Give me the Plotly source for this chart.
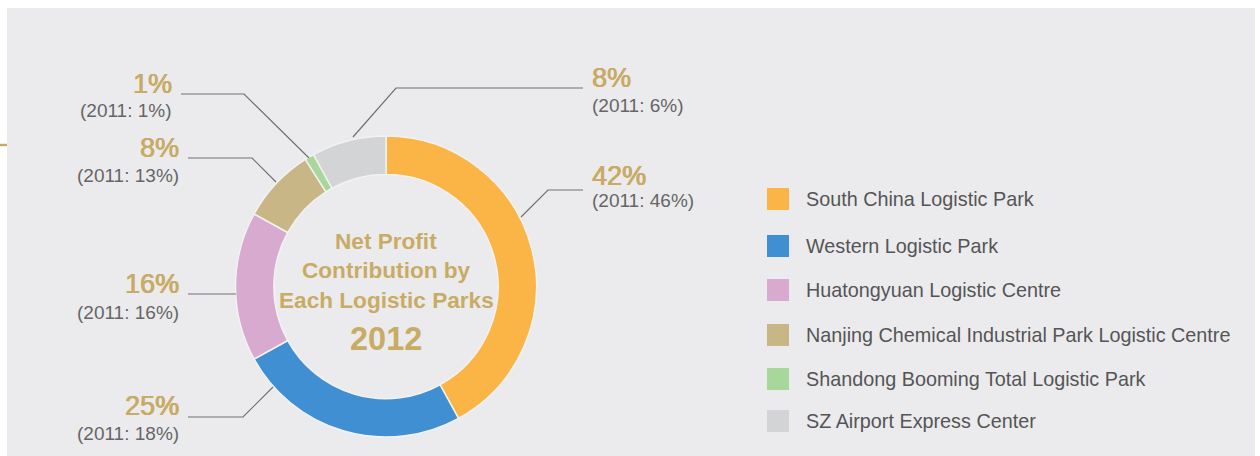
import plotly.graph_objects as go

W, H = 1260, 456

# ---------------- data ----------------
labels = ["South China Logistic Park", "Western Logistic Park", "Huatongyuan Logistic Centre",
          "Nanjing Chemical Industrial Park Logistic Centre", "Shandong Booming Total Logistic Park",
          "SZ Airport Express Center"]
share_2012 = [42, 25, 16, 8, 1, 8]
share_2011 = [46, 18, 16, 13, 1, 6]
colors = ["#FBB446", "#3F8FD2", "#D8AAD0", "#C8B687", "#A7D79A", "#D3D4D6"]
center_lines = ["Net Profit", "Contribution by", "Each Logistic Parks"]
center_year = "2012"
prev_year = "2011"

# ---------------- layout constants (pixels) ----------------
GOLD = "#C8AB65"
GREY_TXT = "#666666"
LINE = "#707070"
FONT = "Liberation Sans, Arial, sans-serif"
CX, CY, R = 386, 286.5, 150.5

# per slice: side, text x, pct y, sub y, leader polyline
label_pos = [
    ("right", 590, 176, 200.5, [(583, 190), (548, 190), (521, 217)]),
    ("left", 181, 405.5, 433, [(188, 417), (243, 417), (273, 387)]),
    ("left", 181, 284, 312, [(188, 294), (236, 294)]),
    ("left", 181, 148.5, 175, [(188, 158), (252, 158), (276, 182)]),
    ("left", 174, 84, 110.5, [(181, 94), (244, 94), (309, 158)]),
    ("right", 590, 78, 105, [(583, 88), (396, 88), (353, 137)]),
]
legend_rows = [199, 246, 290, 335, 379, 421]


def px(x):
    return x / W


def py(y):
    return 1 - y / H


fig = go.Figure()
fig.add_trace(go.Pie(
    labels=labels, values=share_2012, sort=False, direction="clockwise", rotation=0,
    hole=0.745, textinfo="none", hoverinfo="label+percent",
    marker=dict(colors=colors, line=dict(color="#F2F2F2", width=1.5)),
    domain=dict(x=[px(CX - R), px(CX + R)], y=[py(CY + R), py(CY - R)]),
    showlegend=False,
))

shapes = []
annotations = []

# grey panel and small gold tick
shapes.append(dict(type="rect", xref="paper", yref="paper", x0=px(7), x1=px(1255), y0=py(456), y1=py(8),
                   fillcolor="#EBEBED", line=dict(width=0), layer="below"))
shapes.append(dict(type="line", xref="paper", yref="paper", x0=0, x1=px(7), y0=py(145), y1=py(145),
                   line=dict(color=GOLD, width=2.5)))

# labels + leader lines
for i, (side, tx, ypct, ysub, pts) in enumerate(label_pos):
    anchor = "right" if side == "left" else "left"
    annotations.append(dict(xref="paper", yref="paper", x=px(tx), y=py(ypct), xanchor=anchor, yanchor="middle",
                            text=f"{share_2012[i]}%", showarrow=False,
                            font=dict(family=FONT, size=27, color=GOLD,
                                      shadow=f"0.6px 0 0 {GOLD}, -0.3px 0 0 {GOLD}")))
    annotations.append(dict(xref="paper", yref="paper", x=px(tx), y=py(ysub), xanchor=anchor, yanchor="middle",
                            text=f"({prev_year}: {share_2011[i]}%)", showarrow=False,
                            font=dict(family=FONT, size=19, color=GREY_TXT)))
    path = "M " + " L ".join(f"{px(x)},{py(y)}" for x, y in pts)
    shapes.append(dict(type="path", xref="paper", yref="paper", path=path,
                       line=dict(color=LINE, width=1.2)))

# centre text
for txt, y in zip(center_lines, [241, 270, 300]):
    annotations.append(dict(xref="paper", yref="paper", x=px(CX), y=py(y), xanchor="center", yanchor="middle",
                            text=f"<b>{txt}</b>", showarrow=False,
                            font=dict(family=FONT, size=22.6, color=GOLD)))
annotations.append(dict(xref="paper", yref="paper", x=px(CX), y=py(339), xanchor="center", yanchor="middle",
                        text=f"<b>{center_year}</b>", showarrow=False,
                        font=dict(family=FONT, size=32.5, color=GOLD)))

# legend
for lab, col, y in zip(labels, colors, legend_rows):
    shapes.append(dict(type="rect", xref="paper", yref="paper", x0=px(767), x1=px(789),
                       y0=py(y + 11), y1=py(y - 11), fillcolor=col, line=dict(width=0)))
    annotations.append(dict(xref="paper", yref="paper", x=px(804), y=py(y), xanchor="left", yanchor="middle",
                            text=lab, showarrow=False,
                            font=dict(family=FONT, size=19.8, color="#555555")))

fig.update_layout(
    width=W, height=H, margin=dict(l=0, r=0, t=0, b=0),
    paper_bgcolor="white", plot_bgcolor="white",
    shapes=shapes, annotations=annotations,
)
fig.write_html("out.html", config={"displayModeBar": False},
               post_script="document.body.style.margin='0';document.body.style.overflow='hidden';")
